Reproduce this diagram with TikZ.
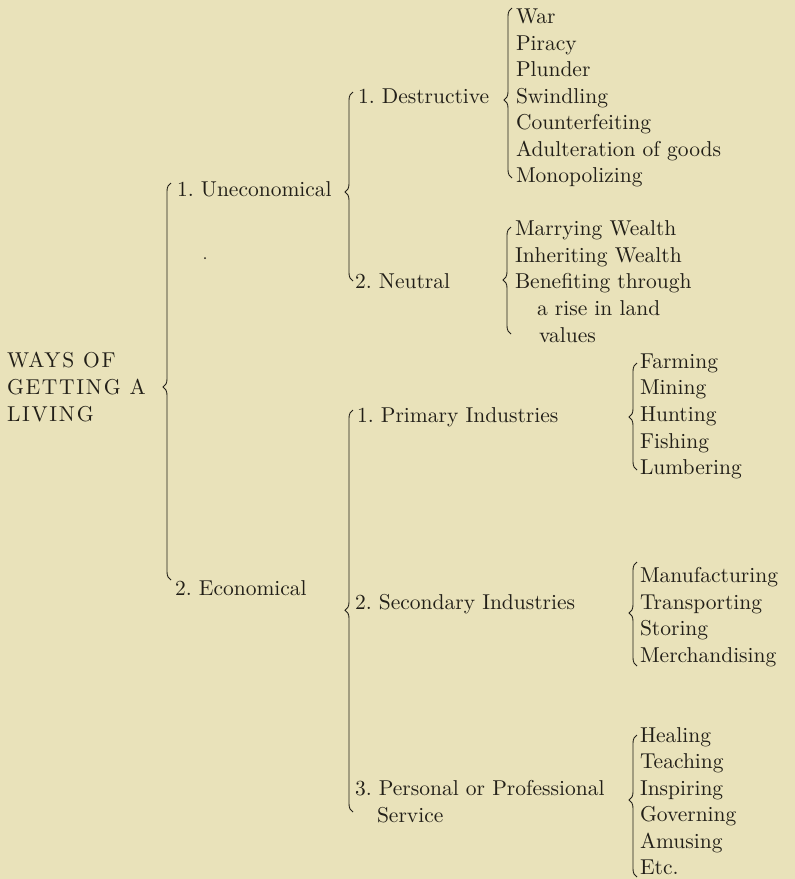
\documentclass[tikz,border=0pt]{standalone}
\usepackage{fontspec}
\setmainfont{lmroman10-regular.otf}
\usetikzlibrary{decorations.pathreplacing}
\definecolor{paper}{HTML}{E9E2BA}
\definecolor{ink}{HTML}{221F18}
\frenchspacing
\begin{document}
\begin{tikzpicture}[x=1pt,y=-1pt,
  lbl/.style={anchor=base west, inner sep=0pt, outer sep=0pt, text=ink,
    font=\fontsize{21.5}{26}\selectfont},
  rootlbl/.style={lbl, font=\fontsize{21.5}{26}\selectfont\addfontfeature{LetterSpace=8}},
  curly/.style={draw=ink, line width=0.9pt, decorate,
    decoration={brace, amplitude=8pt, aspect=#1}}]
\fill[paper] (0,0) rectangle (795,879);
\useasboundingbox (0,0) rectangle (795,879);

% root
\node[rootlbl] (r1) at (7,367) {WAYS OF};
\node[rootlbl] (r2) at (7,394) {GETTING A};
\node[rootlbl] (r3) at (7,421) {LIVING};

% level 1
\node[lbl] (unec) at (177,196) {1. Uneconomical};
\node[lbl] (econ) at (175,595) {2. Economical};

% level 2
\node[lbl] (destr) at (358,103) {1. Destructive};
\node[lbl] (neut) at (355,288) {2. Neutral};
\node[lbl] (prim) at (357,422) {1. Primary Industries};
\node[lbl] (secd) at (355,609) {2. Secondary Industries};
\node[lbl] (pers) at (355,795) {3. Personal or Professional};
\node[lbl] (serv) at (377,822) {Service};

% destructive items
\node[lbl] (d1) at (516,23.5) {War};
\node[lbl] (d2) at (516,50) {Piracy};
\node[lbl] (d3) at (516,76.5) {Plunder};
\node[lbl] (d4) at (516,103) {Swindling};
\node[lbl] (d5) at (516,129.5) {Counterfeiting};
\node[lbl] (d6) at (516,156) {Adulteration of goods};
\node[lbl] (d7) at (516,182.5) {Monopolizing};

% neutral items
\node[lbl] (n1) at (515,235) {Marrying Wealth};
\node[lbl] (n2) at (515,262) {Inheriting Wealth};
\node[lbl] (n3) at (515,288) {Benefiting through};
\node[lbl] (n4) at (537,315) {a rise in land};
\node[lbl] (n5) at (539,342) {values};

% primary items
\node[lbl] (p1) at (640,368) {Farming};
\node[lbl] (p2) at (640,394.7) {Mining};
\node[lbl] (p3) at (640,421.4) {Hunting};
\node[lbl] (p4) at (640,448) {Fishing};
\node[lbl] (p5) at (640,474.8) {Lumbering};

% secondary items
\node[lbl] (s1) at (640,582) {Manufacturing};
\node[lbl] (s2) at (640,609) {Transporting};
\node[lbl] (s3) at (640,635.5) {Storing};
\node[lbl] (s4) at (640,662) {Merchandising};

% personal items
\node[lbl] (q1) at (640,742) {Healing};
\node[lbl] (q2) at (640,768.5) {Teaching};
\node[lbl] (q3) at (640,795) {Inspiring};
\node[lbl] (q4) at (640,821.5) {Governing};
\node[lbl] (q5) at (640,848) {Amusing};
\node[lbl] (q6) at (640,874.5) {Etc.};

% brace end points
\coordinate (mainT) at (171,183);   \coordinate (mainB) at (171,580);
\coordinate (unT) at (353,92);      \coordinate (unB) at (353,281);
\coordinate (deT) at (512,8);       \coordinate (deB) at (512,178);
\coordinate (neT) at (511,227);     \coordinate (neB) at (511,334);
\coordinate (ecT) at (353,410);     \coordinate (ecB) at (353,812);
\coordinate (prT) at (637,363);     \coordinate (prB) at (637,470);
\coordinate (seT) at (637,562);     \coordinate (seB) at (637,666);
\coordinate (peT) at (637,735);     \coordinate (peB) at (637,877);

\draw[curly=0.486] (mainB) -- (mainT);
\draw[curly=0.471] (unB) -- (unT);
\draw[curly=0.459] (deB) -- (deT);
\draw[curly=0.505] (neB) -- (neT);
\draw[curly=0.502] (ecB) -- (ecT);
\draw[curly=0.495] (prB) -- (prT);
\draw[curly=0.510] (seB) -- (seT);
\draw[curly=0.542] (peB) -- (peT);

% speck
\fill[ink] (205,258) circle (1pt);
\end{tikzpicture}
\end{document}
